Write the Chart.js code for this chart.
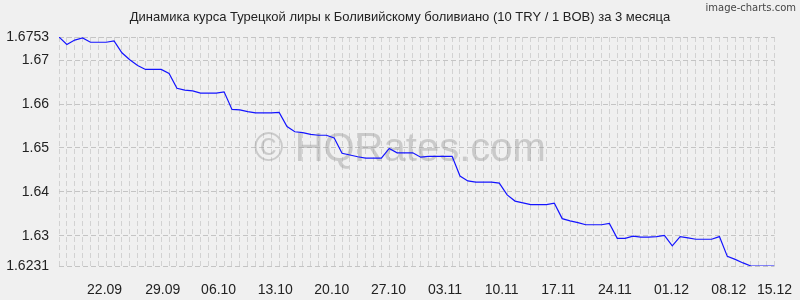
<!DOCTYPE html>
<html>
<head>
<meta charset="utf-8">
<script src="https://cdn.jsdelivr.net/npm/chart.js@4/dist/chart.umd.min.js"></script>
<style>
  body { margin: 0; background: #f0f0f0; }
  canvas { display: block; }
</style>
</head>
<body>
<canvas id="grafico" width="800" height="300"></canvas>
<script>
// курс 10 TRY / 1 BOB, по точкам слева направо
var kurs = [
    1.6753, 1.6736, 1.6746, 1.6751, 1.6741, 1.6741, 1.6741, 1.6744, 1.6717, 1.6701,
    1.6688, 1.6679, 1.6679, 1.6679, 1.6670, 1.6636, 1.6632, 1.6630, 1.6625, 1.6625,
    1.6625, 1.6628, 1.6588, 1.6587, 1.6583, 1.6580, 1.6580, 1.6580, 1.6581, 1.6549,
    1.6537, 1.6535, 1.6531, 1.6529, 1.6529, 1.6523, 1.6488, 1.6484, 1.6480, 1.6477,
    1.6477, 1.6477, 1.6499, 1.6489, 1.6489, 1.6489, 1.6479, 1.6481, 1.6481, 1.6481,
    1.6481, 1.6436, 1.6425, 1.6422, 1.6422, 1.6422, 1.6420, 1.6393, 1.6379, 1.6375,
    1.6371, 1.6371, 1.6371, 1.6374, 1.6339, 1.6334, 1.6330, 1.6325, 1.6325, 1.6325,
    1.6328, 1.6294, 1.6294, 1.6299, 1.6297, 1.6297, 1.6298, 1.6301, 1.6277, 1.6298,
    1.6295, 1.6292, 1.6292, 1.6292, 1.6298, 1.6253, 1.6246, 1.6238, 1.6231, 1.6231,
    1.6231, 1.6231
];

var dateLabels = ['22.09', '29.09', '06.10', '13.10', '20.10', '27.10', '03.11',
                  '10.11', '17.11', '24.11', '01.12', '08.12', '15.12'];
var dateIndex = [5.8, 13.2, 20.3, 27.5, 34.7, 41.9, 49.1, 56.3, 63.5, 70.7, 77.9, 85.2, 91];

var yTicks = [1.6231, 1.63, 1.64, 1.65, 1.66, 1.67, 1.6753];

var titolo = 'Динамика курса Турецкой лиры к Боливийскому боливиано (10 TRY / 1 BOB) за 3 месяца';

var punti = [];
for (var i = 0; i < kurs.length; i++) {
    punti.push({ x: i, y: kurs[i] });
}

var FONT = '"Liberation Sans", Arial, sans-serif';

// sfondo, titolo, scritte
var decorazioni = {
    id: 'decorazioni',
    beforeDraw: function (chart) {
        var c = chart.ctx;
        c.save();
        c.fillStyle = '#f0f0f0';
        c.fillRect(0, 0, chart.width, chart.height);
        c.fillStyle = '#222';
        c.font = '13px ' + FONT;
        c.textAlign = 'center';
        c.textBaseline = 'middle';
        c.fillText(titolo, 400, 17);
        c.fillStyle = '#444';
        c.font = '10px "DejaVu Sans", sans-serif';
        c.textAlign = 'right';
        c.fillText('image-charts.com', 796, 8);
        c.restore();
    },
    beforeDatasetsDraw: function (chart) {
        var c = chart.ctx;
        c.save();
        c.fillStyle = 'rgba(150,150,150,0.42)';
        c.font = '40px ' + FONT;
        c.textAlign = 'center';
        c.textBaseline = 'middle';
        c.fillText('\u00A9 HQRates.com', 400, 150);
        c.restore();
    }
};

var ctx = document.getElementById('grafico');
var chart = new Chart(ctx, {
    type: 'line',
    data: {
        datasets: [{
            data: punti,
            borderColor: '#1414ff',
            borderWidth: 1.2,
            pointRadius: 0,
            tension: 0,
            fill: false
        }]
    },
    options: {
        responsive: false,
        animation: false,
        layout: { padding: { top: 37, right: 21, left: 0, bottom: 0 } },
        plugins: {
            legend: { display: false },
            tooltip: { enabled: false }
        },
        scales: {
            x: {
                type: 'linear',
                min: 0,
                max: kurs.length - 1,
                afterBuildTicks: function (axis) {
                    axis.ticks = dateIndex.map(function (v) { return { value: v }; });
                },
                afterFit: function (axis) { axis.height = 34; },
                ticks: {
                    autoSkip: false,
                    maxRotation: 0,
                    padding: 8,
                    color: '#222',
                    font: { family: FONT, size: 14 },
                    callback: function (v, idx) { return dateLabels[idx]; }
                },
                grid: { display: false },
                border: { display: false }
            },
            giorni: {
                type: 'linear',
                position: 'top',
                min: 0,
                max: kurs.length - 1,
                afterBuildTicks: function (axis) {
                    axis.ticks = kurs.map(function (v, i) { return { value: i }; });
                },
                afterFit: function (axis) { axis.height = 0; },
                ticks: { display: false },
                grid: { color: '#d2d2d2', lineWidth: 1, drawTicks: false },
                border: { display: false, dash: [5, 3] }
            },
            y: {
                min: yTicks[0],
                max: yTicks[yTicks.length - 1],
                afterBuildTicks: function (axis) {
                    axis.ticks = yTicks.map(function (v) { return { value: v }; });
                },
                afterFit: function (axis) { axis.width = 59; },
                ticks: {
                    padding: 10,
                    color: '#222',
                    font: { family: FONT, size: 14 },
                    callback: function (v) { return String(v); }
                },
                grid: { color: '#c4c4c4', lineWidth: 1, drawTicks: false },
                border: { display: false, dash: [5, 3] }
            }
        }
    },
    plugins: [decorazioni]
});
</script>
</body>
</html>
